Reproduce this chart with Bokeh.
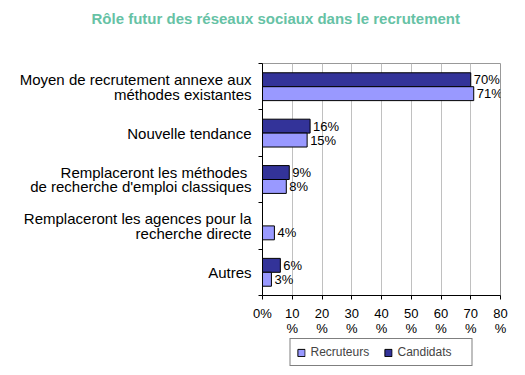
from bokeh.plotting import figure
from bokeh.layouts import column
from bokeh.models import (ColumnDataSource, FixedTicker, Range1d, Legend, LegendItem, Title)
from bokeh.core.properties import value
from bokeh.embed import file_html
from bokeh.resources import INLINE

categories = [
    "Moyen de recrutement annexe aux\nméthodes existantes",
    "Nouvelle tendance",
    "Remplaceront les méthodes \nde recherche d'emploi classiques",
    "Remplaceront les agences pour la\nrecherche directe",
    "Autres",
]
recruteurs = [71, 15, 8, 4, 3]
candidats = [70, 16, 9, 0, 6]
x_ticks = [0, 10, 20, 30, 40, 50, 60, 70, 80]
x_tick_labels = ["0%", "10\n%", "20\n%", "30\n%", "40\n%", "50\n%", "60\n%", "70\n%", "80\n%"]
series_names = ["Recruteurs", "Candidats"]
title_text = "Rôle futur des réseaux sociaux dans le recrutement"

FONT = "Liberation Sans"
C_REC = "#9999FF"
C_CAN = "#333399"

n = len(categories)
centers = [n - i - 0.5 for i in range(n)]
bar_h = 0.3

src_c = ColumnDataSource(dict(
    x=candidats, y=[c + bar_h / 2 for c in centers],
    lab=[f"{v}%" if v > 0 else "" for v in candidats]))
src_r = ColumnDataSource(dict(
    x=recruteurs, y=[c - bar_h / 2 for c in centers],
    lab=[f"{v}%" if v > 0 else "" for v in recruteurs]))

p = figure(width=525, height=338, output_backend="svg", toolbar_location=None,
           x_range=Range1d(0, 80), y_range=Range1d(0, n),
           min_border_left=262, min_border_right=25,
           min_border_top=63, min_border_bottom=40)

p.title.text = ""
p.title.visible = False
spacer = Title(text=" ", text_font_size="18px", text_color="white")
p.add_layout(spacer, "above")
main_title = Title(text=title_text, text_font=FONT, text_font_size="15px",
                   text_font_style="bold", text_color="#66C2A5",
                   align="left", offset=-171)
p.add_layout(main_title, "above")

r_can = p.hbar(y="y", right="x", left=0, height=bar_h, source=src_c,
               fill_color=C_CAN, line_color="black", line_width=1)
r_rec = p.hbar(y="y", right="x", left=0, height=bar_h, source=src_r,
               fill_color=C_REC, line_color="black", line_width=1)

for s in (src_c, src_r):
    p.text(x="x", y="y", text="lab", source=s, x_offset=3,
           text_baseline="middle", text_align="left",
           text_font=value(FONT), text_font_size="13px", text_color="black")

# x axis
xa = p.xaxis[0]
xa.ticker = FixedTicker(ticks=x_ticks)
xa.major_label_overrides = {t: l for t, l in zip(x_ticks, x_tick_labels)}
xa.major_label_text_font = FONT
xa.major_label_text_font_size = "13px"
xa.major_label_text_color = "black"
xa.major_label_text_line_height = 1.0
xa.major_tick_in = 0
xa.major_tick_out = 4
xa.minor_tick_line_color = None
xa.axis_line_color = "black"
xa.major_tick_line_color = "black"
xa.major_label_standoff = 6

# y axis
ya = p.yaxis[0]
ya.ticker = FixedTicker(ticks=centers, minor_ticks=list(range(n + 1)))
ya.major_label_overrides = {c: l for c, l in zip(centers, categories)}
ya.major_label_text_font = FONT
ya.major_label_text_font_size = "15px"
ya.major_label_text_color = "black"
ya.major_label_text_line_height = 0.88
ya.major_tick_in = 0
ya.major_tick_out = 0
ya.minor_tick_in = 0
ya.minor_tick_out = 4
ya.minor_tick_line_color = "black"
ya.axis_line_color = "black"
ya.major_label_standoff = 7

p.xgrid.ticker = FixedTicker(ticks=x_ticks)
p.xgrid.grid_line_color = "#c0c0c0"
p.ygrid.grid_line_color = None
p.outline_line_color = "#999999"
p.background_fill_color = "white"
p.border_fill_color = "white"

# legend strip below the chart (proxy renderers lie outside the strip's range)
pl = figure(width=525, height=37, output_backend="svg", toolbar_location=None,
            x_range=Range1d(0, 1), y_range=Range1d(0, 1),
            min_border_left=262, min_border_right=25,
            min_border_top=0, min_border_bottom=0, outline_line_color=None)
pl.axis.visible = False
pl.grid.visible = False
lg_src = ColumnDataSource(dict(y=[-5], right=[0.5]))
lr_rec = pl.hbar(y="y", right="right", left=0, height=0.1, source=lg_src,
                 fill_color=C_REC, line_color="black")
lr_can = pl.hbar(y="y", right="right", left=0, height=0.1, source=lg_src,
                 fill_color=C_CAN, line_color="black")
legend = Legend(items=[LegendItem(label=series_names[0], renderers=[lr_rec]),
                       LegendItem(label=series_names[1], renderers=[lr_can])],
                orientation="horizontal", location="top_center", margin=0,
                padding=6, spacing=5, label_standoff=5,
                glyph_width=9, glyph_height=9,
                label_width=68, label_height=12,
                label_text_font=FONT, label_text_font_size="12px",
                border_line_color="black", border_line_width=1)
pl.add_layout(legend, "center")

layout = column(p, pl, spacing=0)
open("out.html", "w").write(file_html(layout, INLINE))
